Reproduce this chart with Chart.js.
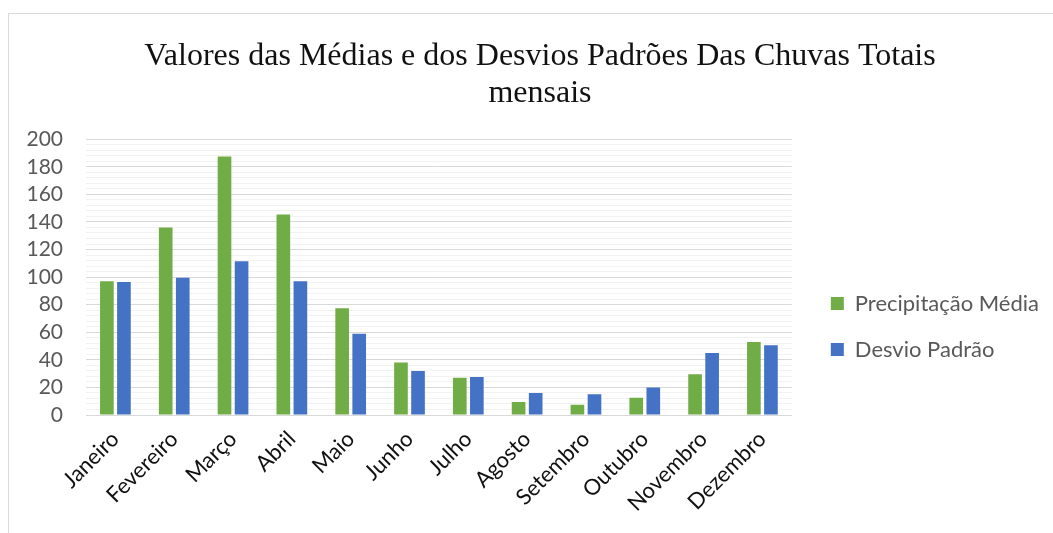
<!DOCTYPE html>
<html>
<head>
<meta charset="utf-8">
<script src="https://cdn.jsdelivr.net/npm/chart.js@4"></script>
<style>
  html, body { margin: 0; padding: 0; background: #fff; overflow: hidden; }
  .frame { position: absolute; left: 8px; top: 13px; width: 1100px; height: 600px;
           border: 1px solid #d9d9d9; box-sizing: border-box; }
  .wrap { position: absolute; left: 8px; top: 13px; width: 1064px; height: 545px; }
</style>
</head>
<body>
<div class="frame"></div>
<div class="wrap"><canvas id="chart"></canvas></div>
<script>
  /* chart data */
  const months = ['Janeiro', 'Fevereiro', 'Março', 'Abril', 'Maio', 'Junho',
    'Julho', 'Agosto', 'Setembro', 'Outubro', 'Novembro', 'Dezembro'];
  const precipMedia = [97, 136, 187.5, 145.5, 77.5, 38, 27, 9.5, 7.5, 12.5, 29.5, 53];
  const desvioPadrao = [96.5, 99.5, 111.5, 97, 59, 32, 27.5, 16, 15, 20, 45, 50.5];
  const titleLines = ['Valores das Médias e dos Desvios Padrões Das Chuvas Totais', 'mensais'];

  const GREEN = '#70ad47';
  const BLUE = '#4472c4';
  const TEXT = '#595959';
  const UI_FONT = 'Lato, "Open Sans", sans-serif';

  /* legend sits a bit away from the plot and lower, and the title is centred
     on the whole frame, like the Excel original */
  const boxNudge = {
    id: 'boxNudge',
    afterLayout(chart) {
      const lg = chart.legend;
      if (lg) {
        lg.left += 15; lg.right += 15;
        lg.top += 41; lg.bottom += 41;
      }
      const tb = chart.titleBlock;
      if (tb) { tb.left += 19; tb.right += 19; }
    }
  };

  new Chart(document.getElementById('chart'), {
    type: 'bar',
    data: {
      labels: months,
      datasets: [
        { label: 'Precipitação Média', data: precipMedia, backgroundColor: GREEN },
        { label: 'Desvio Padrão', data: desvioPadrao, backgroundColor: BLUE }
      ]
    },
    options: {
      responsive: true,
      maintainAspectRatio: false,
      animation: false,
      datasets: { bar: { categoryPercentage: 0.58, barPercentage: 0.8 } },
      layout: { padding: { left: 0, right: 38, bottom: 0 } },
      plugins: {
        title: {
          display: true,
          text: titleLines,
          color: '#111',
          font: { family: '"Liberation Serif", "Times New Roman", serif', size: 32, weight: 'normal', lineHeight: 1.16 },
          padding: { top: 25, bottom: 27 }
        },
        legend: {
          position: 'right',
          labels: {
            color: TEXT,
            font: { family: UI_FONT, size: 22 },
            boxWidth: 13,
            boxHeight: 13,
            padding: 24
          }
        },
        tooltip: { enabled: false }
      },
      scales: {
        x: {
          grid: { display: false },
          border: { color: '#d9d9d9' },
          ticks: {
            color: '#111',
            font: { family: UI_FONT, size: 22 },
            minRotation: 45,
            maxRotation: 45,
            autoSkip: false
          },
          afterFit: s => { s.height = 143; }
        },
        y: {
          min: 0,
          max: 200,
          border: { display: false },
          grid: {
            drawTicks: false,
            color: ctx => (ctx.tick && ctx.tick.value % 20 === 0) ? '#d9d9d9' : '#f2f2f2'
          },
          ticks: {
            stepSize: 4,
            autoSkip: false,
            padding: 23,
            color: TEXT,
            font: { family: UI_FONT, size: 21 },
            callback: v => (v % 20 === 0 ? v : '')
          },
          afterFit: s => { s.width = 78; }
        }
      }
    },
    plugins: [boxNudge]
  });
</script>
</body>
</html>
